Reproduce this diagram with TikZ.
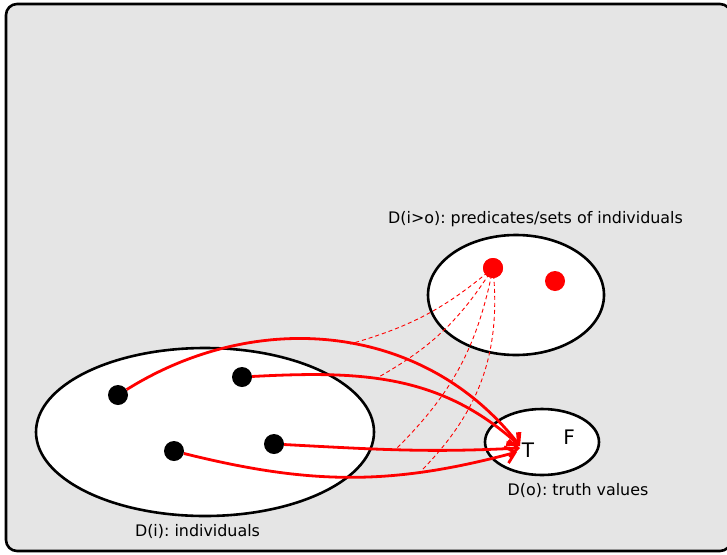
\documentclass[tikz,border=0pt]{standalone}
\usepackage{fontspec}
\setmainfont{DejaVu Sans}
\usetikzlibrary{arrows.meta}
\definecolor{bggray}{HTML}{E5E5E5}
\tikzset{
  setell/.style={draw=black, line width=2.6pt, fill=white},
  blackdot/.style={circle, fill=black, inner sep=0pt, minimum size=20pt},
  reddot/.style={circle, fill=red, inner sep=0pt, minimum size=20pt},
  maparrow/.style={draw=red, line width=2.8pt, -{Straight Barb[length=9pt,width=17pt,line width=2.8pt]}},
  trace/.style={draw=red, line width=0.9pt, dash pattern=on 4pt off 3pt},
  lbl/.style={font=\fontsize{15.9}{18}\selectfont, inner sep=0pt},
  tv/.style={font=\fontsize{20}{22}\selectfont, inner sep=0pt}
}
\begin{document}
\frenchspacing
\begin{tikzpicture}[x=1pt,y=-1pt]
\useasboundingbox (0,0) rectangle (727,554);
\draw[fill=bggray, line width=2.6pt, rounded corners=11pt] (6,4) rectangle (731,551);
% sets
\draw[setell] (205,432) ellipse [x radius=169, y radius=84];
\draw[setell] (516,295) ellipse [x radius=88, y radius=60];
\draw[setell] (542,442) ellipse [x radius=57, y radius=33];
% labels
\node[lbl] (lpred) at (535.5,219) {D(i>o): predicates/sets of individuals};
\node[lbl] (ltv) at (578,490) {D(o): truth values};
\node[lbl] (lind) at (197.5,531) {D(i): individuals};
% truth values
\node[tv] (T) at (528,450) {T};
\node[tv] (F) at (569,437) {F};
\coordinate (tipA) at (520,446);
\coordinate (tipB) at (520,448);
\coordinate (tipC) at (517,452);
% individuals
\node[blackdot] (a) at (118,395) {};
\node[blackdot] (b) at (242,377) {};
\node[blackdot] (c) at (174,451) {};
\node[blackdot] (d) at (274,444) {};
% predicates
\node[reddot] (p) at (493,268) {};
\node[reddot] (q) at (555,281) {};
% mapping arrows
\draw[maparrow] (a) to[out=32, in=128] (tipA);
\draw[maparrow] (b) to[out=3, in=138] (tipA);
\draw[maparrow] (d) to[out=-3, in=183] (tipB);
\draw[maparrow] (c) to[out=-14, in=195] (tipC);
% dashed traces
\coordinate (e1) at (350,344);
\coordinate (e2) at (377,378);
\coordinate (e3) at (395,450);
\coordinate (e4) at (422,470);
\draw[trace] (p.center) to[bend left=12] (e1);
\draw[trace] (p.center) to[bend left=14] (e2);
\draw[trace] (p.center) to[bend left=17] (e3);
\draw[trace] (p.center) to[bend left=25] (e4);
\node[reddot] (p2) at (p) {};
\end{tikzpicture}
\end{document}
